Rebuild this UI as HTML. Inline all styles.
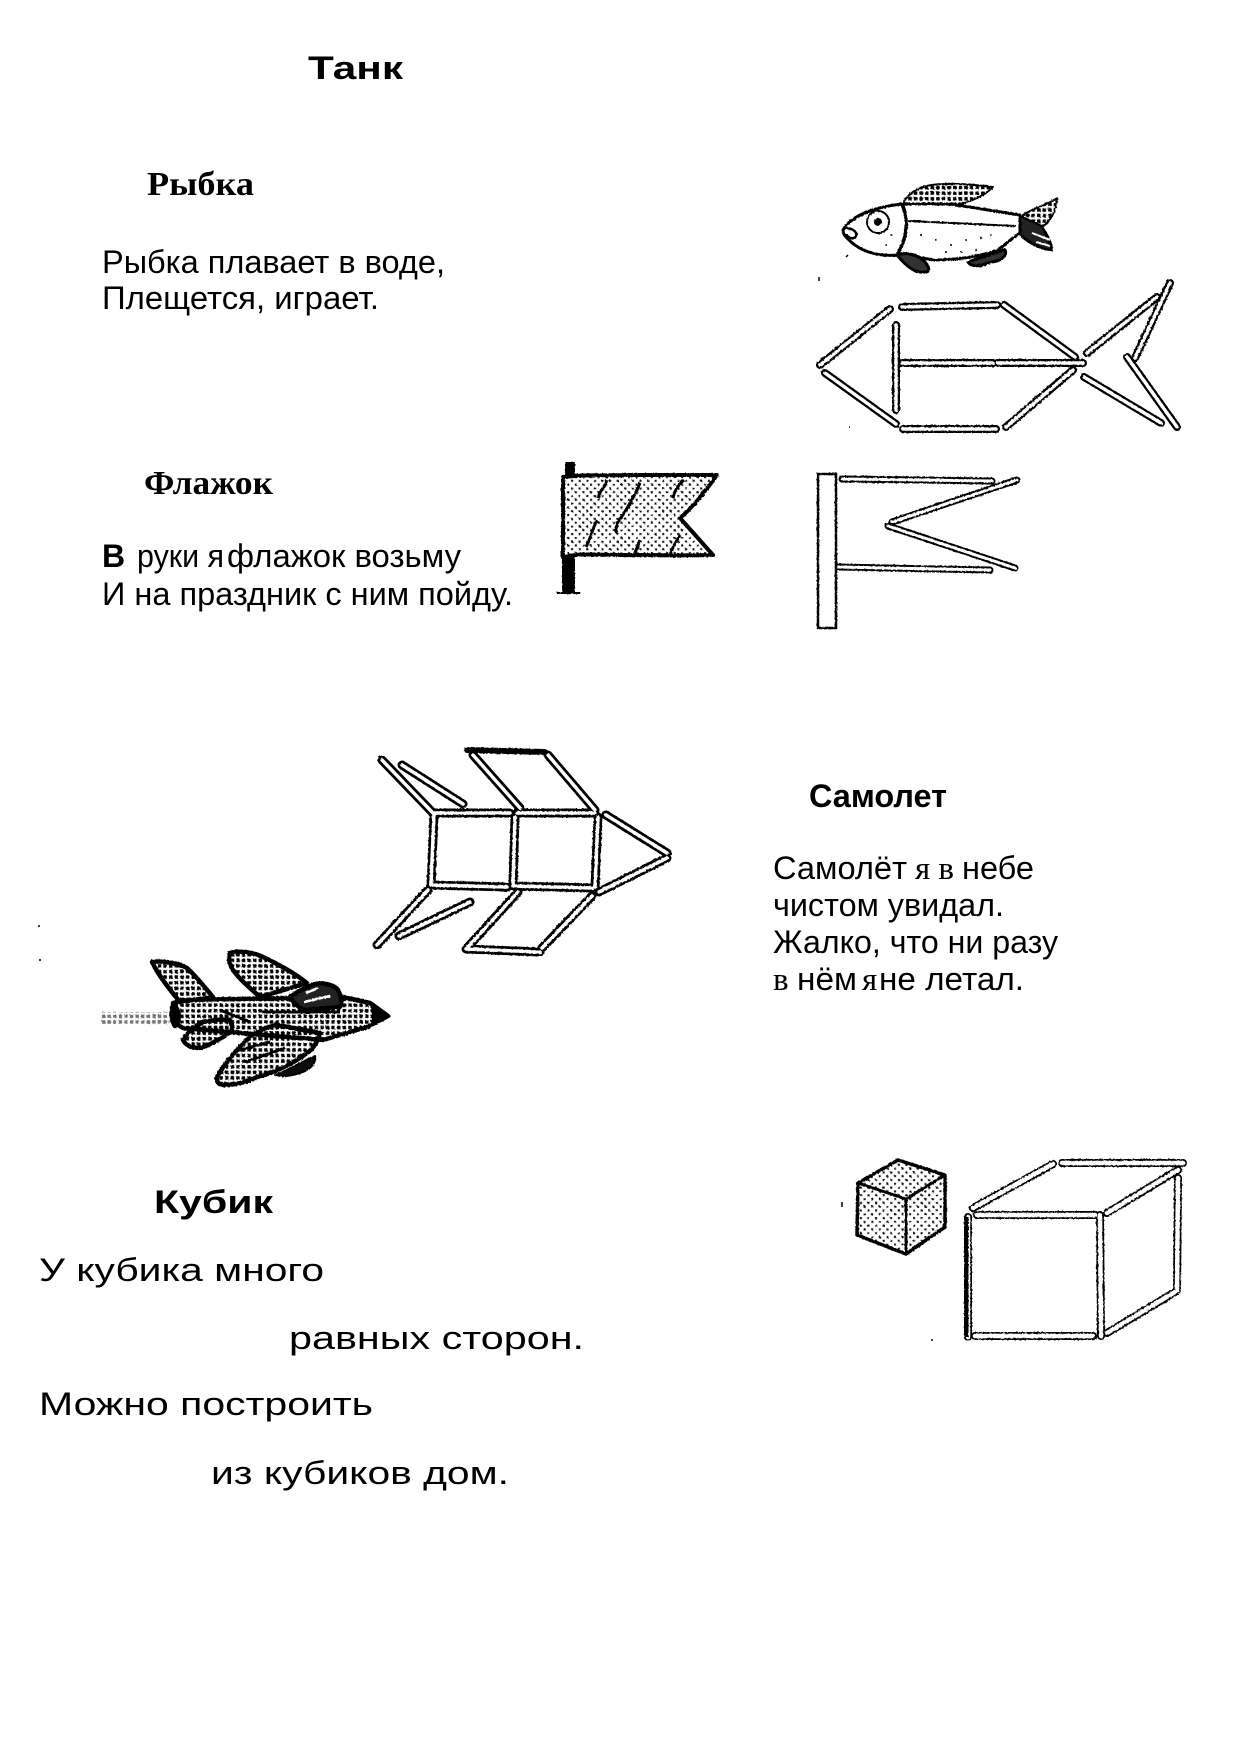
<!DOCTYPE html>
<html><head><meta charset="utf-8"><style>
html,body{margin:0;padding:0;background:#fff;width:1240px;height:1754px;overflow:hidden}
svg{display:block}
text{fill:#000;font-family:"Liberation Sans",sans-serif;font-size:32px}
.b{font-weight:bold}
.s{font-family:"Liberation Serif",serif;font-weight:bold;font-size:34px}
.r{font-family:"Liberation Serif",serif;font-size:33px}
</style></head><body>
<svg width="1240" height="1754" viewBox="0 0 1240 1754" xmlns="http://www.w3.org/2000/svg">
<defs>
<pattern id="st" width="7.6" height="7.6" patternUnits="userSpaceOnUse"><rect x="1" y="1" width="2.1" height="2.1" fill="#111"/><rect x="4.8" y="4.8" width="2.1" height="2.1" fill="#111"/></pattern>
<pattern id="pl" width="5.6" height="5.6" patternUnits="userSpaceOnUse"><rect x="1" y="1" width="3.5" height="3.5" fill="#000"/></pattern>
<filter id="rough" x="-5%" y="-5%" width="110%" height="110%"><feTurbulence type="fractalNoise" baseFrequency="0.45" numOctaves="2" seed="4" result="n"/><feDisplacementMap in="SourceGraphic" in2="n" scale="2"/></filter>
<g id="fishS" stroke-linecap="round" fill="none">
<path d="M820 365L890 309M825 373L896 424M902 307L997 305M1004 305L1075 357M896 325V410M902 363H993M998 363H1083M1073 370L1006 427M903 429H996M1087 353L1157 297M1135 358L1170 283M1127 357L1177 427M1084 377L1161 423"/>
</g>
<g id="flagS" stroke-linecap="round" fill="none">
<path d="M842 479L992 481M1017 480L892 522M888 526L1015 568M838 567L990 570"/>
</g>
<g id="rocketS" stroke-linecap="round" fill="none">
<path d="M382 760L432 812M402 765L463 804M473 755L520 808M548 755L595 810M433 813H510M517 813H595M434 815L431 885M515 817L513 885M598 817L595 887M431 885L507 887M513 886L592 888M606 815L667 853M667 858L599 892M428 890L377 945M470 902L399 936M518 892L467 948M592 896L542 948M466 949L540 952"/>
</g>
<g id="cubeS" stroke-linecap="round" fill="none">
<path d="M973 1208L1053 1164M1062 1163H1183M1107 1213L1178 1170M1178 1178L1177 1290M977 1215H1095M968 1217V1337M1100 1215L1101 1336M975 1336L1093 1336M1107 1333L1175 1292"/>
</g>
</defs>

<!-- Titles and text -->
<text class="b" x="308" y="79" textLength="95" lengthAdjust="spacingAndGlyphs">Танк</text>
<text class="s" x="147" y="195" textLength="107" lengthAdjust="spacingAndGlyphs">Рыбка</text>
<text x="102" y="273" textLength="343" lengthAdjust="spacingAndGlyphs">Рыбка плавает в воде,</text>
<text x="102" y="309" textLength="277" lengthAdjust="spacingAndGlyphs">Плещется, играет.</text>
<text class="s" x="144" y="494" textLength="129" lengthAdjust="spacingAndGlyphs">Флажок</text>
<text class="b" x="102" y="567">В</text>
<text x="137" y="567" textLength="87" lengthAdjust="spacingAndGlyphs">руки я</text>
<text x="227" y="567" textLength="234" lengthAdjust="spacingAndGlyphs">флажок возьму</text>
<text x="102" y="605" textLength="411" lengthAdjust="spacingAndGlyphs">И на праздник с ним пойду.</text>
<text class="b" x="809" y="807" textLength="138" lengthAdjust="spacingAndGlyphs">Самолет</text>
<text x="773" y="879" textLength="134" lengthAdjust="spacingAndGlyphs">Самолёт</text>
<text class="r" x="915" y="879">я в</text>
<text x="962" y="879" textLength="72" lengthAdjust="spacingAndGlyphs">небе</text>
<text x="773" y="916" textLength="231" lengthAdjust="spacingAndGlyphs">чистом увидал.</text>
<text x="773" y="953" textLength="285" lengthAdjust="spacingAndGlyphs">Жалко, что ни разу</text>
<text class="r" x="773" y="990">в</text>
<text x="797" y="990" textLength="60" lengthAdjust="spacingAndGlyphs">нём</text>
<text class="r" x="862" y="990">я</text>
<text x="879" y="990" textLength="145" lengthAdjust="spacingAndGlyphs">не летал.</text>
<text class="b" x="154" y="1213" textLength="119" lengthAdjust="spacingAndGlyphs">Кубик</text>
<text x="39" y="1281" textLength="285" lengthAdjust="spacingAndGlyphs">У кубика много</text>
<text x="289" y="1349" textLength="295" lengthAdjust="spacingAndGlyphs">равных сторон.</text>
<text x="39" y="1415" textLength="334" lengthAdjust="spacingAndGlyphs">Можно построить</text>
<text x="211" y="1484" textLength="298" lengthAdjust="spacingAndGlyphs">из кубиков дом.</text>

<g filter="url(#rough)">
<!-- Sticks -->
<use href="#fishS" stroke="#000" stroke-width="8"/>
<use href="#fishS" stroke="#fff" stroke-width="3.5"/>
<use href="#flagS" stroke="#000" stroke-width="7"/>
<use href="#flagS" stroke="#fff" stroke-width="3"/>
<use href="#rocketS" stroke="#000" stroke-width="9"/>
<use href="#rocketS" stroke="#fff" stroke-width="3.5"/>
<use href="#cubeS" stroke="#000" stroke-width="8"/>
<use href="#cubeS" stroke="#fff" stroke-width="4.5"/>
<path d="M467 750L545 752" stroke="#000" stroke-width="6" stroke-linecap="round"/>
<path d="M966.5 1217V1337" stroke="#000" stroke-width="4"/>
<rect x="818" y="474" width="18" height="154" fill="#fff" stroke="#000" stroke-width="2.5"/>

<!-- Fish drawing -->
<g stroke="#000" fill="none" stroke-linejoin="round">
<path d="M903 203C910 190 925 184 945 184C965 183 985 186 993 187C985 195 975 200 958 205C940 205 915 204 903 203Z" fill="url(#pl)" stroke-width="2"/>
<path d="M1023 215C1035 207 1050 204 1057 198C1056 212 1050 222 1042 227C1048 235 1052 244 1052 250C1040 250 1028 242 1022 237Z" fill="url(#pl)" stroke-width="2"/>
<path d="M1020 216L1042 226L1052 250C1038 248 1026 240 1020 234Z" fill="#222" stroke-width="2"/>
<path d="M1032 233L1050 240M1036 242L1050 246" stroke="#fff" stroke-width="2"/>
<path d="M843 230C850 218 868 208 902 204L950 204L1020 215L1020 233C1010 240 1003 246 998 250C975 258 950 260 933 260C920 257 905 256 897 255C875 257 858 250 847 238Q843 234 843 230Z" fill="#fff" stroke-width="3"/>
<path d="M902 204C910 222 906 240 897 255" stroke-width="3.5"/>
<path d="M908 221L1016 226" stroke-width="2"/>
<circle cx="878" cy="222" r="11" stroke-width="2"/>
<circle cx="878" cy="222" r="3.5" fill="#000"/>
<path d="M845 228C852 228 858 232 856 236C854 240 848 238 846 234" stroke-width="2.5"/>
<path d="M897 255C905 252 918 254 925 262C930 268 930 272 925 272C915 274 905 265 897 255Z" fill="#333" stroke-width="3"/>
<path d="M968 262C980 258 995 252 1005 250C1008 256 1000 262 990 262C982 266 972 268 968 262Z" fill="#333" stroke-width="3"/>
<path d="M935 240h2M950 245h2M965 240h2M980 238h2M945 252h2M960 252h2M975 250h2M990 235h2M920 235h2M890 235h2M885 245h2" stroke-width="1.5"/>
</g>

<!-- Flag drawing -->
<path d="M565 462H575V477H565ZM562 556H575V593H562Z" fill="#000"/>
<path d="M557 593H580" stroke="#000" stroke-width="2"/>
<path d="M563 477C590 474 600 476 625 475H717C705 492 690 510 680 518L713 555C680 556 660 555 640 555C610 556 585 552 563 557Z" fill="url(#st)" stroke="#000" stroke-width="4" stroke-linejoin="round"/>
<path d="M607 480C605 487 600 490 598 498M640 483C635 495 628 508 618 522C616 528 615 530 617 533M684 480C678 485 674 492 673 498M597 520C592 530 590 540 586 547M640 540C638 546 636 550 634 555M680 535C676 542 672 548 670 555" stroke="#000" stroke-width="3" fill="none"/>

<!-- Plane -->
<g stroke="#000" stroke-width="4.5" stroke-linejoin="round">
<path d="M152 962C165 960 180 964 187 968C197 977 207 990 213 997L180 1002C170 990 158 975 152 962Z" fill="url(#pl)"/>
<path d="M173 1003L183 1000L343 997L370 1003L388 1016L367 1027L323 1040L183 1028L173 1022Z" fill="url(#pl)"/>
<path d="M230 953C240 950 255 953 263 957C280 965 297 975 307 983L260 997C250 988 240 980 233 970C229 963 228 958 230 953Z" fill="url(#pl)"/>
<path d="M290 997C300 990 310 985 320 983C330 984 336 987 338 990C342 998 342 1003 340 1007L303 1010C297 1006 293 1002 290 997Z" fill="#222"/>
<path d="M183 1040C188 1032 195 1026 203 1022C213 1020 222 1019 230 1020C233 1025 233 1029 230 1032C220 1040 210 1045 200 1048C192 1048 186 1046 183 1040Z" fill="url(#pl)"/>
<path d="M217 1077C225 1063 238 1048 250 1037C258 1030 268 1027 277 1025L320 1033C318 1042 312 1050 307 1053C290 1066 270 1074 257 1077C245 1083 232 1085 223 1085C218 1084 216 1081 217 1077Z" fill="url(#pl)"/>
<path d="M275 1075C290 1070 300 1062 315 1056C316 1064 310 1070 300 1073C292 1076 282 1077 275 1075Z" fill="#111" stroke-width="2"/>
<path d="M174 1005C180 1010 180 1022 175 1026C171 1020 170 1010 174 1005Z" fill="#000"/>
<path d="M370 1003L388 1016L372 1024C374 1016 373 1009 370 1003Z" fill="#000" stroke-width="2"/>
</g>
<path d="M306 993L318 988M304 1002L330 996" stroke="#fff" stroke-width="2.5"/>
<path d="M262 1012H340M220 1010L250 1022M240 1050L270 1042M245 1062L285 1048" stroke="#000" stroke-width="3" fill="none"/>
<rect x="100" y="1012" width="70" height="12" fill="url(#pl)" opacity=".55"/>

<!-- Small cube -->
<path d="M898 1160L945 1175V1227L906 1254L857 1235L858 1183Z" fill="url(#st)" stroke="#000" stroke-width="3.5" stroke-linejoin="round"/>
<path d="M858 1183L906 1199L945 1175M906 1199V1254" fill="none" stroke="#000" stroke-width="3"/>
</g>

<!-- Specks -->
<path d="M819 277v4M848 255l-2 2M849 427h1M38 926h2M40 959v2M842 1202v5M931 1340h2" stroke="#000" stroke-width="1.5" fill="none"/>
</svg>
</body></html>
